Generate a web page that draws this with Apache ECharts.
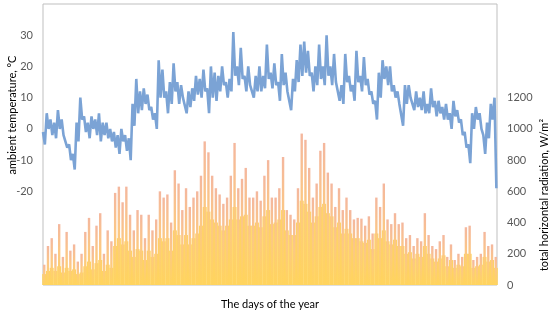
<!DOCTYPE html>
<html>
<head>
<meta charset="utf-8">
<script src="https://cdn.jsdelivr.net/npm/echarts@6/dist/echarts.min.js"></script>
<style>
  html, body { margin: 0; padding: 0; background: #fff; }
  #chart { width: 550px; height: 311px; }
</style>
</head>
<body>
<div id="chart"></div>
<script>
// one sample every 3 days (day 0 .. 363)
const stepDays = 3;
// ambient temperature, daily high / low per sample, °C
const tempHigh = [-1, 5, 3, 2, 6, 3, -2, -5, -8, 2, 10, 4, 2, 4, 3, 5, 2, 2, 0, -1, -2, 0, -2, -3, 8, 16,
  12, 13, 11, 7, 5, 22, 19, 12, 15, 21, 15, 14, 10, 12, 13, 17, 16, 19, 13, 20, 18, 17, 20, 15, 16,
  31, 20, 26, 17, 20, 14, 17, 20, 17, 27, 18, 21, 15, 24, 18, 12, 16, 22, 27, 28, 25, 18, 20, 27, 20,
  30, 20, 24, 15, 14, 24, 17, 14, 25, 17, 23, 16, 12, 9, 18, 22, 20, 20, 14, 12, 8, 14, 14, 10, 12,
  10, 12, 8, 13, 9, 9, 7, 8, 5, 9, 6, 3, -1, -5, 5, 7, 5, -2, 2, 8, 10];
const tempLow = [-5, 0, -2, -3, 0, -2, -6, -10, -13, -4, 3, -1, -3, 0, -2, -4, -2, -3, -4, -6, -8, -4, -7, -10, 1, 5,
  6, 8, 6, 3, 0, 10, 10, 5, 8, 12, 8, 10, 5, 7, 9, 11, 10, 12, 5, 10, 9, 12, 14, 10, 12,
  17, 14, 16, 12, 14, 10, 12, 12, 13, 16, 13, 14, 9, 14, 12, 6, 12, 15, 17, 18, 17, 12, 14, 16, 14,
  17, 14, 15, 9, 8, 15, 12, 9, 15, 12, 14, 11, 8, 3, 10, 16, 14, 12, 10, 8, 1, 8, 10, 6, 7,
  6, 5, 5, 7, 4, 5, 3, 3, 0, 4, 2, -2, -6, -11, 0, 3, 0, -8, -3, 3, -19];
// total horizontal radiation, W/m2: peak of each sample and the level that is filled most hours
const radPeak = [130, 250, 300, 200, 390, 180, 340, 220, 260, 150, 200, 340, 430, 250, 380, 460, 200, 350, 280, 590,
  630, 530, 630, 450, 350, 480, 450, 300, 450, 350, 420, 600, 560, 580, 400, 735, 650, 480, 620, 500,
  560, 600, 700, 920, 850, 700, 620, 580, 520, 560, 700, 910, 620, 680, 750, 560, 560, 600, 540, 700,
  800, 560, 560, 620, 820, 480, 450, 420, 620, 970, 930, 750, 560, 650, 860, 910, 720, 650, 500, 620,
  480, 560, 480, 420, 430, 425, 380, 440, 330, 560, 500, 650, 420, 390, 460, 390, 400, 300, 320, 250,
  300, 280, 460, 320, 250, 230, 280, 320, 180, 260, 160, 200, 180, 370, 380, 160, 180, 200, 340, 250,
  260, 180];
const radBase = [70, 90, 110, 90, 120, 80, 110, 90, 100, 70, 80, 120, 150, 100, 140, 160, 90, 130, 110, 250,
  300, 260, 280, 220, 180, 230, 220, 160, 220, 180, 200, 300, 280, 300, 220, 350, 320, 260, 320, 260,
  300, 330, 380, 500, 470, 420, 400, 380, 350, 380, 420, 500, 420, 440, 450, 380, 380, 400, 370, 440,
  480, 390, 400, 420, 480, 350, 320, 320, 400, 540, 520, 470, 400, 440, 500, 520, 460, 440, 370, 400,
  330, 360, 330, 300, 300, 280, 270, 290, 230, 330, 300, 350, 280, 260, 290, 250, 250, 200, 210, 170,
  200, 180, 250, 200, 170, 150, 170, 190, 120, 160, 110, 130, 120, 200, 200, 110, 120, 130, 180, 150,
  160, 110];
const tempTicks = [-20, -10, 0, 10, 20, 30];
const radTicks = [0, 200, 400, 600, 800, 1000, 1200];

const tempLine = [];
tempHigh.forEach((hi, i) => {
  const d = i * stepDays;
  tempLine.push([d, hi]);
  tempLine.push([d + stepDays / 2, tempLow[i]]);
});
const peakBars = radPeak.map((v, i) => [i * stepDays + 1, v]);
const baseBars = radBase.map((v, i) => [i * stepDays + 1, v]);

const font = 'Lato, "Liberation Sans", sans-serif';
const myChart = echarts.init(document.getElementById('chart'));
myChart.setOption({
  animation: false,
  grid: {
    left: 43, right: 53, top: 4, bottom: 26,
    outerBoundsMode: 'none',
    show: true, borderColor: '#BFBFBF', borderWidth: 1
  },
  // y axis titles
  graphic: [
    {
      type: 'text', x: 12, y: 115, rotation: Math.PI / 2,
      style: {
        text: 'ambient temperature, °C', fontFamily: font, fontSize: 11, fill: '#000',
        align: 'center', verticalAlign: 'middle'
      }
    },
    {
      type: 'text', x: 544, y: 195, rotation: Math.PI / 2,
      style: {
        text: 'total horizontal radiation, W/m²', fontFamily: font, fontSize: 11, fill: '#000',
        align: 'center', verticalAlign: 'middle'
      }
    }
  ],
  xAxis: [
    {
      type: 'value', min: 0, max: 365,
      axisLine: { show: false }, axisTick: { show: false },
      axisLabel: { show: false }, splitLine: { show: false },
      name: 'The days of the year', nameLocation: 'middle', nameGap: 14,
      nameTextStyle: { fontFamily: font, fontSize: 11, color: '#000' }
    },
    {
      type: 'value', min: 0, max: 365, show: false
    }
  ],
  yAxis: [
    {
      type: 'value', min: -50, max: 40, interval: 10,
      axisLine: { show: false }, axisTick: { show: false }, splitLine: { show: false },
      axisLabel: {
        fontFamily: font, fontSize: 11, color: '#595959', margin: 10,
        formatter: v => tempTicks.includes(v) ? String(v) : ''
      }
    },
    {
      type: 'value', min: 0, max: 1800, interval: 200,
      axisLine: { show: false }, axisTick: { show: false }, splitLine: { show: false },
      axisLabel: {
        fontFamily: font, fontSize: 11, color: '#595959', margin: 10,
        formatter: v => radTicks.includes(v) ? String(v) : ''
      }
    }
  ],
  series: [
    {
      name: 'base', type: 'bar', xAxisIndex: 1, yAxisIndex: 1,
      data: baseBars, barWidth: 4, itemStyle: { color: '#FFD45E' }
    },
    {
      name: 'radiation', type: 'bar', xAxisIndex: 0, yAxisIndex: 1,
      data: peakBars, barWidth: 2.4,
      itemStyle: {
        color: {
          type: 'linear', x: 0, y: 0, x2: 0, y2: 1,
          colorStops: [
            { offset: 0, color: '#F4B79E' },
            { offset: 0.45, color: '#FCC884' },
            { offset: 1, color: '#FFD45E' }
          ]
        }
      }
    },
    {
      name: 'temperature', type: 'line', xAxisIndex: 0, yAxisIndex: 0,
      data: tempLine, showSymbol: false, symbol: 'none',
      lineStyle: { color: '#7BA3D5', width: 2.6 }
    }
  ]
});
</script>
</body>
</html>
